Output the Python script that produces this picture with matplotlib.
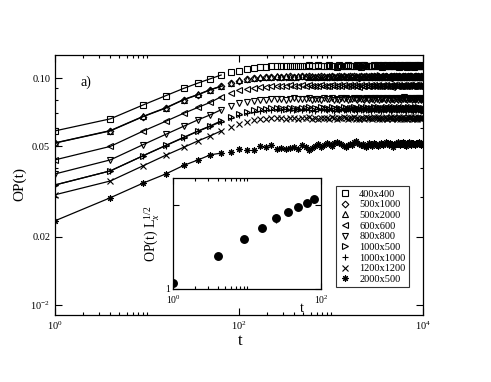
import matplotlib
matplotlib.use('Agg')
import matplotlib.pyplot as plt
from matplotlib.ticker import FixedLocator, NullFormatter

plt.rcParams['font.family'] = ['Liberation Serif', 'DejaVu Serif']
plt.rcParams['mathtext.fontset'] = 'custom'
plt.rcParams['mathtext.rm'] = 'Liberation Serif'
plt.rcParams['mathtext.it'] = 'Liberation Serif:italic'

# sampling times (t = 1, 4, 9, ... 10000)
t = [1, 4, 9, 16, 25, 36, 49, 64, 81, 100,
     121, 144, 169, 196, 225, 256, 289, 324, 361, 400,
     441, 484, 529, 576, 625, 676, 729, 784, 841, 900,
     961, 1024, 1089, 1156, 1225, 1296, 1369, 1444, 1521, 1600,
     1681, 1764, 1849, 1936, 2025, 2116, 2209, 2304, 2401, 2500,
     2601, 2704, 2809, 2916, 3025, 3136, 3249, 3364, 3481, 3600,
     3721, 3844, 3969, 4096, 4225, 4356, 4489, 4624, 4761, 4900,
     5041, 5184, 5329, 5476, 5625, 5776, 5929, 6084, 6241, 6400,
     6561, 6724, 6889, 7056, 7225, 7396, 7569, 7744, 7921, 8100,
     8281, 8464, 8649, 8836, 9025, 9216, 9409, 9604, 9801, 10000]

# early part (first 15 times) of each curve
sq_early = [0.0585, 0.0661, 0.0760, 0.0836, 0.0900, 0.0951, 0.0993, 0.1031,
            0.1059, 0.1077, 0.1096, 0.1107, 0.1114, 0.1122, 0.1126]
di_early = [0.0517, 0.0585, 0.0675, 0.0737, 0.0802, 0.0844, 0.0888, 0.0918,
            0.0951, 0.0973, 0.0988, 0.0998, 0.1005, 0.1009, 0.1012]
tu_early = [0.0518, 0.0587, 0.0677, 0.0740, 0.0804, 0.0847, 0.0890, 0.0921,
            0.0954, 0.0976, 0.0991, 0.1001, 0.1008, 0.1012, 0.1015]
tl_early = [0.0436, 0.0500, 0.0583, 0.0645, 0.0699, 0.0743, 0.0782, 0.0827,
            0.0861, 0.0883, 0.0897, 0.0906, 0.0913, 0.0917, 0.0921]
td_early = [0.0378, 0.0436, 0.0508, 0.0565, 0.0613, 0.0655, 0.0689, 0.0725,
            0.0755, 0.0774, 0.0786, 0.0794, 0.0800, 0.0804, 0.0806]
tr_early = [0.0338, 0.0390, 0.0454, 0.0505, 0.0548, 0.0585, 0.0616, 0.0648,
            0.0675, 0.0696, 0.0710, 0.0721, 0.0728, 0.0732, 0.0735]
pl_early = [0.0338, 0.0390, 0.0454, 0.0504, 0.0546, 0.0583, 0.0613, 0.0643,
            0.0668, 0.0688, 0.0701, 0.0710, 0.0716, 0.0720, 0.0722]
xx_early = [0.0306, 0.0352, 0.0410, 0.0457, 0.0495, 0.0529, 0.0557, 0.0585,
            0.0610, 0.0629, 0.0642, 0.0651, 0.0658, 0.0661, 0.0664]
st_early = [0.0235, 0.0297, 0.0344, 0.0378, 0.0412, 0.0436, 0.0459, 0.0467,
            0.0474, 0.0486, 0.0480, 0.0483, 0.0503, 0.0495, 0.0508]

# saturated part (remaining 85 times)
sq_late = [0.1128, 0.1131, 0.1126, 0.1133, 0.1129, 0.1135, 0.1130, 0.1127, 0.1136, 0.1132,
           0.1125, 0.1138, 0.1131, 0.1129, 0.1134, 0.1141, 0.1127, 0.1133, 0.1124, 0.1137,
           0.1130, 0.1135, 0.1128, 0.1139, 0.1132, 0.1126, 0.1134, 0.1129, 0.1137, 0.1131,
           0.1123, 0.1136, 0.1140, 0.1128, 0.1133, 0.1127, 0.1135, 0.1130, 0.1142, 0.1126,
           0.1132, 0.1137, 0.1129, 0.1134, 0.1124, 0.1139, 0.1131, 0.1127, 0.1136, 0.1130,
           0.1133, 0.1125, 0.1138, 0.1132, 0.1128, 0.1141, 0.1129, 0.1135, 0.1122, 0.1137,
           0.1131, 0.1126, 0.1134, 0.1139, 0.1128, 0.1133, 0.1124, 0.1136, 0.1130, 0.1142,
           0.1127, 0.1135, 0.1131, 0.1123, 0.1138, 0.1129, 0.1134, 0.1140, 0.1126, 0.1132,
           0.1137, 0.1128, 0.1135, 0.1130, 0.1133]
di_late = [0.1011, 0.1015, 0.1009, 0.1017, 0.1012, 0.1008, 0.1016, 0.1013, 0.1019, 0.1010,
           0.1014, 0.1007, 0.1018, 0.1012, 0.1015, 0.1009, 0.1021, 0.1013, 0.1006, 0.1016,
           0.1011, 0.1019, 0.1014, 0.1008, 0.1017, 0.1012, 0.1022, 0.1010, 0.1015, 0.1005,
           0.1018, 0.1013, 0.1009, 0.1020, 0.1014, 0.1011, 0.1016, 0.1007, 0.1019, 0.1012,
           0.1015, 0.1023, 0.1010, 0.1014, 0.1006, 0.1017, 0.1012, 0.1020, 0.1009, 0.1015,
           0.1011, 0.1018, 0.1004, 0.1013, 0.1021, 0.1016, 0.1010, 0.1014, 0.1019, 0.1008,
           0.1015, 0.1012, 0.1022, 0.1009, 0.1017, 0.1013, 0.1006, 0.1018, 0.1011, 0.1016,
           0.1020, 0.1010, 0.1014, 0.1007, 0.1019, 0.1013, 0.1016, 0.1009, 0.1021, 0.1012,
           0.1015, 0.1008, 0.1017, 0.1011, 0.1014]
tu_late = [0.1018, 0.1013, 0.1020, 0.1015, 0.1011, 0.1019, 0.1016, 0.1022, 0.1014, 0.1017,
           0.1010, 0.1021, 0.1015, 0.1018, 0.1012, 0.1024, 0.1016, 0.1009, 0.1019, 0.1014,
           0.1022, 0.1017, 0.1011, 0.1020, 0.1015, 0.1025, 0.1013, 0.1018, 0.1008, 0.1021,
           0.1016, 0.1012, 0.1023, 0.1017, 0.1014, 0.1019, 0.1010, 0.1022, 0.1015, 0.1018,
           0.1026, 0.1013, 0.1017, 0.1009, 0.1020, 0.1015, 0.1023, 0.1012, 0.1018, 0.1014,
           0.1021, 0.1007, 0.1016, 0.1024, 0.1019, 0.1013, 0.1017, 0.1022, 0.1011, 0.1018,
           0.1015, 0.1025, 0.1012, 0.1020, 0.1016, 0.1009, 0.1021, 0.1014, 0.1019, 0.1023,
           0.1013, 0.1017, 0.1010, 0.1022, 0.1016, 0.1019, 0.1012, 0.1024, 0.1015, 0.1018,
           0.1011, 0.1020, 0.1014, 0.1017, 0.1016]
tl_late = [0.0923, 0.0927, 0.0921, 0.0929, 0.0924, 0.0920, 0.0928, 0.0925, 0.0931, 0.0922,
           0.0926, 0.0919, 0.0930, 0.0924, 0.0927, 0.0921, 0.0933, 0.0925, 0.0918, 0.0928,
           0.0923, 0.0931, 0.0926, 0.0920, 0.0929, 0.0924, 0.0934, 0.0922, 0.0927, 0.0917,
           0.0930, 0.0925, 0.0921, 0.0932, 0.0926, 0.0923, 0.0928, 0.0919, 0.0931, 0.0924,
           0.0927, 0.0935, 0.0922, 0.0926, 0.0918, 0.0929, 0.0924, 0.0932, 0.0921, 0.0927,
           0.0923, 0.0930, 0.0916, 0.0925, 0.0933, 0.0928, 0.0922, 0.0926, 0.0931, 0.0920,
           0.0927, 0.0924, 0.0934, 0.0921, 0.0929, 0.0925, 0.0918, 0.0930, 0.0923, 0.0928,
           0.0932, 0.0922, 0.0926, 0.0919, 0.0931, 0.0925, 0.0928, 0.0921, 0.0933, 0.0924,
           0.0927, 0.0920, 0.0929, 0.0923, 0.0926]
td_late = [0.0806, 0.0811, 0.0803, 0.0809, 0.0813, 0.0805, 0.0810, 0.0807, 0.0815, 0.0802,
           0.0808, 0.0812, 0.0800, 0.0814, 0.0806, 0.0810, 0.0817, 0.0804, 0.0809, 0.0799,
           0.0813, 0.0807, 0.0816, 0.0803, 0.0811, 0.0805, 0.0819, 0.0808, 0.0801, 0.0814,
           0.0806, 0.0812, 0.0798, 0.0817, 0.0809, 0.0804, 0.0815, 0.0810, 0.0802, 0.0818,
           0.0807, 0.0813, 0.0800, 0.0811, 0.0805, 0.0820, 0.0808, 0.0803, 0.0816, 0.0809,
           0.0797, 0.0814, 0.0806, 0.0812, 0.0801, 0.0818, 0.0808, 0.0804, 0.0815, 0.0810,
           0.0799, 0.0813, 0.0807, 0.0821, 0.0805, 0.0811, 0.0802, 0.0817, 0.0809, 0.0806,
           0.0814, 0.0800, 0.0812, 0.0808, 0.0819, 0.0803, 0.0810, 0.0815, 0.0801, 0.0813,
           0.0807, 0.0816, 0.0804, 0.0811, 0.0809]
tr_late = [0.0735, 0.0739, 0.0733, 0.0741, 0.0736, 0.0731, 0.0740, 0.0737, 0.0743, 0.0734,
           0.0738, 0.0730, 0.0742, 0.0736, 0.0739, 0.0732, 0.0745, 0.0737, 0.0729, 0.0740,
           0.0734, 0.0743, 0.0738, 0.0731, 0.0741, 0.0735, 0.0746, 0.0733, 0.0739, 0.0728,
           0.0742, 0.0737, 0.0732, 0.0744, 0.0738, 0.0734, 0.0740, 0.0730, 0.0743, 0.0736,
           0.0739, 0.0747, 0.0733, 0.0738, 0.0729, 0.0741, 0.0736, 0.0744, 0.0732, 0.0739,
           0.0735, 0.0742, 0.0727, 0.0737, 0.0745, 0.0740, 0.0733, 0.0738, 0.0743, 0.0731,
           0.0739, 0.0736, 0.0746, 0.0732, 0.0741, 0.0737, 0.0729, 0.0742, 0.0735, 0.0740,
           0.0744, 0.0733, 0.0738, 0.0730, 0.0743, 0.0736, 0.0740, 0.0732, 0.0745, 0.0735,
           0.0739, 0.0731, 0.0741, 0.0734, 0.0738]
pl_late = [0.0727, 0.0722, 0.0729, 0.0724, 0.0720, 0.0728, 0.0725, 0.0731, 0.0723, 0.0726,
           0.0719, 0.0730, 0.0724, 0.0727, 0.0721, 0.0733, 0.0725, 0.0718, 0.0728, 0.0723,
           0.0731, 0.0726, 0.0720, 0.0729, 0.0724, 0.0734, 0.0722, 0.0727, 0.0717, 0.0730,
           0.0725, 0.0721, 0.0732, 0.0726, 0.0723, 0.0728, 0.0719, 0.0731, 0.0724, 0.0727,
           0.0735, 0.0722, 0.0726, 0.0718, 0.0729, 0.0724, 0.0732, 0.0721, 0.0727, 0.0723,
           0.0730, 0.0716, 0.0725, 0.0733, 0.0728, 0.0722, 0.0726, 0.0731, 0.0720, 0.0727,
           0.0724, 0.0734, 0.0721, 0.0729, 0.0725, 0.0718, 0.0730, 0.0723, 0.0728, 0.0732,
           0.0722, 0.0726, 0.0719, 0.0731, 0.0725, 0.0728, 0.0721, 0.0733, 0.0724, 0.0727,
           0.0720, 0.0729, 0.0723, 0.0726, 0.0725]
xx_late = [0.0664, 0.0668, 0.0662, 0.0669, 0.0665, 0.0661, 0.0668, 0.0666, 0.0671, 0.0663,
           0.0667, 0.0660, 0.0670, 0.0665, 0.0668, 0.0662, 0.0673, 0.0666, 0.0659, 0.0669,
           0.0664, 0.0671, 0.0667, 0.0661, 0.0669, 0.0665, 0.0674, 0.0663, 0.0668, 0.0658,
           0.0670, 0.0666, 0.0662, 0.0672, 0.0667, 0.0664, 0.0669, 0.0660, 0.0671, 0.0665,
           0.0668, 0.0675, 0.0663, 0.0667, 0.0659, 0.0670, 0.0665, 0.0672, 0.0662, 0.0668,
           0.0664, 0.0671, 0.0657, 0.0666, 0.0673, 0.0669, 0.0663, 0.0667, 0.0671, 0.0661,
           0.0668, 0.0665, 0.0674, 0.0662, 0.0670, 0.0666, 0.0659, 0.0671, 0.0664, 0.0669,
           0.0672, 0.0663, 0.0667, 0.0660, 0.0671, 0.0666, 0.0669, 0.0662, 0.0673, 0.0665,
           0.0668, 0.0661, 0.0670, 0.0664, 0.0667]
st_late = [0.0489, 0.0493, 0.0486, 0.0491, 0.0495, 0.0489, 0.0508, 0.0497, 0.0483, 0.0492,
           0.0501, 0.0512, 0.0498, 0.0505, 0.0519, 0.0511, 0.0503, 0.0515, 0.0524, 0.0517,
           0.0510, 0.0502, 0.0499, 0.0507, 0.0513, 0.0508, 0.0521, 0.0527, 0.0518, 0.0512,
           0.0506, 0.0514, 0.0503, 0.0498, 0.0509, 0.0516, 0.0511, 0.0504, 0.0519, 0.0513,
           0.0507, 0.0501, 0.0512, 0.0520, 0.0514, 0.0506, 0.0511, 0.0523, 0.0515, 0.0509,
           0.0518, 0.0512, 0.0505, 0.0499, 0.0508, 0.0515, 0.0510, 0.0521, 0.0513, 0.0506,
           0.0512, 0.0519, 0.0524, 0.0515, 0.0509, 0.0503, 0.0511, 0.0517, 0.0522, 0.0514,
           0.0508, 0.0516, 0.0520, 0.0512, 0.0506, 0.0513, 0.0518, 0.0510, 0.0516, 0.0521,
           0.0514, 0.0509, 0.0517, 0.0512, 0.0515]

labels = ['400x400', '500x1000', '500x2000', '600x600', '800x800',
          '1000x500', '1000x1000', '1200x1200', '2000x500']
series = [sq_early + sq_late, di_early + di_late, tu_early + tu_late,
          tl_early + tl_late, td_early + td_late, tr_early + tr_late,
          pl_early + pl_late, xx_early + xx_late, st_early + st_late]
n_fit = 8   # points joined by the straight fit line

# inset: scaled order parameter
t_ins = [1, 4, 9, 16, 25, 36, 49, 64, 81]
op_ins = [1.19, 2.47, 3.90, 5.36, 6.95, 8.30, 9.53, 10.6, 11.8]
op_ins_err = [0.05, 0.15, 0.25, 0.3, 0.8, 0.5, 0.45, 0.5, 0.6]

markers = ['s', 'D', '^', '<', 'v', '>', '+', 'x', (8, 2, 0)]
sizes = [4.3, 3.4, 4.3, 4.3, 4.3, 4.3, 4.8, 3.8, 4.6]

fig = plt.figure(figsize=(4.91, 3.82), dpi=100)
ax = fig.add_axes([0.112, 0.1754, 0.7495, 0.6806])

for lab, vals, m, s in zip(labels, series, markers, sizes):
    ax.plot(t[:n_fit], vals[:n_fit], color='k', lw=0.9)
    ax.plot(t, vals, ls='none', marker=m, ms=s, mfc='none', mec='k',
            mew=0.8, label=lab)

ax.set_xscale('log')
ax.set_yscale('log')
ax.set_xlim(1, 1e4)
ax.set_ylim(0.00904, 0.1263)
ax.set_xticks([1, 100, 1e4], [r'$10^{0}$', r'$10^{2}$', r'$10^{4}$'])
ax.xaxis.set_minor_locator(FixedLocator([2, 3, 4, 5, 6, 7, 8, 9, 10,
                                         200, 300, 400, 500, 600, 700, 800, 900, 1000]))
ax.xaxis.set_minor_formatter(NullFormatter())
ax.set_yticks([0.01, 0.02, 0.05, 0.1], [r'$10^{-2}$', '0.02', '0.05', '0.10'])
ax.yaxis.set_minor_locator(FixedLocator([0.03, 0.04, 0.06, 0.07, 0.08, 0.09]))
ax.yaxis.set_minor_formatter(NullFormatter())
ax.tick_params(which='both', direction='in', top=True, right=True, width=0.8,
               labelsize=7.5)
ax.tick_params(which='major', length=5)
ax.tick_params(which='minor', length=2.5)
for sp in ax.spines.values():
    sp.set_linewidth(0.9)

ax.text(0.068, 0.896, 'a)', transform=ax.transAxes, fontsize=10, va='center')
fig.text(240 / 491, 1 - 341 / 382, 't', ha='center', va='center', fontsize=12)
fig.text(20 / 491, 1 - 184 / 382, 'OP(t)', ha='center', va='center',
         rotation=90, fontsize=11)

leg = ax.legend(loc='upper left', bbox_to_anchor=(335.7 / 491, 1 - 185.7 / 382),
                bbox_transform=fig.transFigure, fancybox=False, framealpha=1,
                edgecolor='#333333', fontsize=7.5, handlelength=1.0,
                handletextpad=0.9, labelspacing=0.13, borderpad=0.35,
                borderaxespad=0, numpoints=1)
leg.get_frame().set_linewidth(0.8)

# inset
ins = fig.add_axes([0.3523, 0.2435, 0.3014, 0.2906])
ins.errorbar(t_ins, op_ins, yerr=op_ins_err, fmt='o', color='k', ms=5.4,
             elinewidth=0.9, capsize=0)
ins.set_xscale('log')
ins.set_yscale('log')
ins.set_xlim(1, 100)
ins.set_ylim(1, 20.9)
ins.set_xticks([1, 100], [r'$10^{0}$', r'$10^{2}$'])
ins.xaxis.set_minor_locator(FixedLocator([2, 3, 4, 5, 6, 7, 8, 9, 10]))
ins.xaxis.set_minor_formatter(NullFormatter())
ins.set_yticks([1, 10], ['1', ''])
ins.yaxis.set_minor_locator(FixedLocator([]))
ins.tick_params(which='both', direction='in', top=True, right=True, width=0.8,
                labelsize=7)
ins.tick_params(which='major', length=4)
ins.tick_params(which='minor', length=2.5)
ins.tick_params(axis='y', pad=2)
for sp in ins.spines.values():
    sp.set_linewidth(0.9)
fig.text(302 / 491, 1 - 308 / 382, 't', ha='center', va='center', fontsize=10)
fig.text(152 / 491, 1 - 234 / 382, r'OP(t) L$_x^{1/2}$', ha='center',
         va='center', rotation=90, fontsize=10)

fig.savefig('out.png', dpi=100)
